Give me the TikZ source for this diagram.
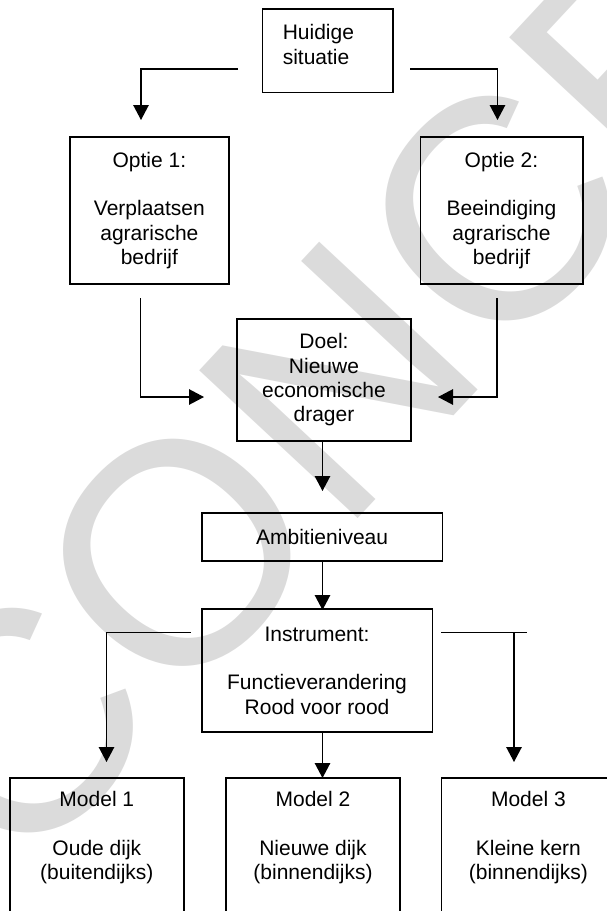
\documentclass[tikz,border=0pt]{standalone}
\usepackage{fontspec}
\setmainfont{Liberation Sans}
\usetikzlibrary{arrows.meta}
\begin{document}
\begin{tikzpicture}[x=1pt,y=-1pt,
  box/.style={draw=black, line width=1.8pt, inner sep=0pt, align=center, font=\fontsize{21}{24.3}\selectfont},
  txt/.style={inner sep=0pt, align=center, font=\fontsize{21}{24.3}\selectfont},
  conn/.style={line width=1.3pt},
  arr/.style={conn, -{Triangle[length=15pt,width=15.5pt]}},
  wmark/.style={inner sep=0pt, text=black!14, font=\fontsize{315}{315}\selectfont}
]
\useasboundingbox (0,0) rectangle (607,911);
\clip (0,0) rectangle (607,911);
% watermark
\node[wmark, rotate=47] (wm) at (464,246) {CONCEPT};
% boxes
\node[box, minimum width=130.5pt, minimum height=83.5pt] (hs) at (327.75,50.75) {};
\node[txt, align=left, anchor=west] (hst) at (282.6,44.5) {Huidige\\situatie};
\node[box, minimum width=158.8pt, minimum height=147.3pt] (o1) at (149.4,210.35) {Optie 1:\\[24.3pt]Verplaatsen\\agrarische\\bedrijf};
\node[box, minimum width=162.2pt, minimum height=147.3pt] (o2) at (501.5,210.35) {Optie 2:\\[24.3pt]Beeindiging\\agrarische\\bedrijf};
\node[box, minimum width=174pt, minimum height=122pt] (doel) at (324,380) {Doel:\\Nieuwe\\economische\\drager};
\node[box, minimum width=240.8pt, minimum height=48.3pt] (amb) at (322.1,536.85) {Ambitieniveau};
\node[box, minimum width=230.7pt, minimum height=123pt] (inst) at (317.05,670.5) {Instrument:\\[24.3pt]Functieverandering\\Rood voor rood};
\node[box, minimum width=174.3pt, minimum height=170pt, anchor=north] (m1) at (96.85,777) {};
\node[box, minimum width=174pt, minimum height=170pt, anchor=north] (m2) at (313,777) {};
\node[box, minimum width=174pt, minimum height=170pt, anchor=north] (m3) at (528.4,777) {};
\node[txt] (m1t) at (96.85,837.5) {Model 1\\[24.3pt]Oude dijk\\(buitendijks)};
\node[txt] (m2t) at (313,837.5) {Model 2\\[24.3pt]Nieuwe dijk\\(binnendijks)};
\node[txt] (m3t) at (528.4,837.5) {Model 3\\[24.3pt]Kleine kern\\(binnendijks)};
% connector points
\coordinate (a1s) at (238,69);
\coordinate (a1e) at (141,120);
\coordinate (a2s) at (410,69);
\coordinate (a2e) at (497.5,120);
\coordinate (a3s) at (140.5,298);
\coordinate (a3e) at (204,397);
\coordinate (a4s) at (497,298);
\coordinate (a4e) at (438,397);
\coordinate (a5s) at (322.5,441);
\coordinate (a5e) at (322.5,491);
\coordinate (a6s) at (322.5,561);
\coordinate (a6e) at (322.5,610);
\coordinate (a7s) at (190.5,632.7);
\coordinate (a7e) at (106.5,762);
\coordinate (a8s) at (322.5,732);
\coordinate (a8e) at (322.5,778);
\coordinate (a9s) at (441.4,632.7);
\coordinate (a9x) at (526.5,632.7);
\coordinate (a9j) at (514,632.7);
\coordinate (a9e) at (514,762);
% connectors
\draw[arr] (a1s) -| (a1e);
\draw[arr] (a2s) -| (a2e);
\draw[arr] (a3s) |- (a3e);
\draw[arr] (a4s) |- (a4e);
\draw[arr] (a5s) -- (a5e);
\draw[arr] (a6s) -- (a6e);
\draw[arr] (a7s) -| (a7e);
\draw[arr] (a8s) -- (a8e);
\draw[conn] (a9s) -- (a9x);
\draw[arr] (a9j) -- (a9e);
\end{tikzpicture}
\end{document}
